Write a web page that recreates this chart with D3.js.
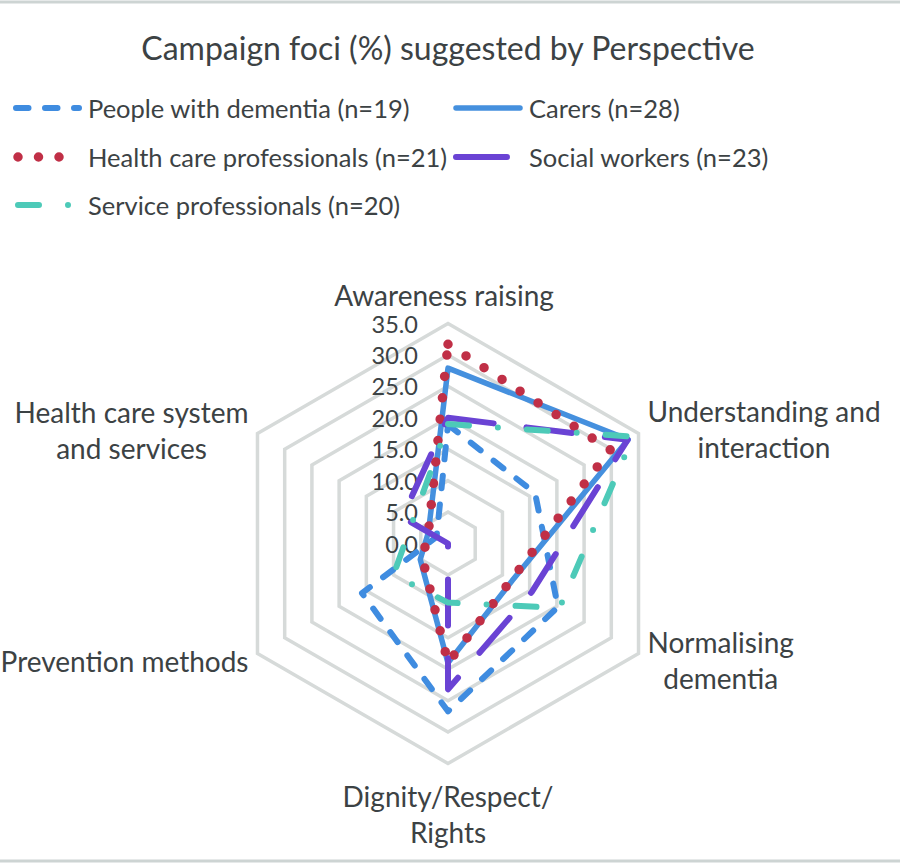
<!DOCTYPE html>
<html>
<head>
<meta charset="utf-8">
<script src="https://cdn.jsdelivr.net/npm/d3@7"></script>
<style>
  html, body { margin: 0; padding: 0; background: #ffffff; }
  svg { display: block; }
  text { font-family: Lato, "Open Sans", sans-serif; fill: #3c4244; }
</style>
</head>
<body>
<svg id="chart" width="900" height="867"></svg>
<script>
// ---- data ----
const title = "Campaign foci (%) suggested by Perspective";
const categories = [
  "Awareness raising",
  "Understanding and|interaction",
  "Normalising|dementia",
  "Dignity/Respect/|Rights",
  "Prevention methods",
  "Health care system|and services"
];
const seriesNames = [
  "People with dementia (n=19)",
  "Carers (n=28)",
  "Health care professionals (n=21)",
  "Social workers (n=23)",
  "Service professionals (n=20)"
];
const peopleWithDementia      = [18.9, 16.0, 20.2, 26.7, 15.8, 2.1];
const carers                  = [27.9, 33.1, 11.8, 19.0, 5.1, 3.6];
const healthCareProfessionals = [31.7, 29.8, 11.6, 19.0, 4.7, 3.6];
const socialWorkers           = [20.0, 33.0, 15.4, 23.2, 0.0, 8.4];
const serviceProfessionals    = [19.0, 34.0, 20.5, 9.4, 10.0, 6.6];
const tickValues = [0, 5, 10, 15, 20, 25, 30, 35];
const tickLabels = ["0.0", "5.0", "10.0", "15.0", "20.0", "25.0", "30.0", "35.0"];

// ---- styles ----
const seriesValues = [peopleWithDementia, carers, healthCareProfessionals, socialWorkers, serviceProfessionals];
const styles = [
  { color: "#3f8ce0", width: 6,   dash: "12.5,16.5", legendDash: "12.5,16.5" },
  { color: "#4590de", width: 5.5, dash: null,        legendDash: null },
  { color: "#c02f46", width: 9.5, dash: "0,21.5",    legendDash: "0,20.5" },
  { color: "#6a43d4", width: 6,   dash: "46,33",     legendDash: null },
  { color: "#4dcab8", width: 6,   dash: "21,29,0,29", legendDash: "21,29,0,29" }
];
const legendPos = [
  { x0: 16, x1: 79, tx: 88, y: 108 },
  { x0: 456, x1: 520, tx: 529, y: 108 },
  { x0: 18, x1: 60, tx: 88, y: 157 },
  { x0: 456, x1: 507, tx: 529, y: 157 },
  { x0: 18, x1: 70, tx: 88, y: 205 }
];

const svg = d3.select("#chart");
const cx = 448, cy = 543.5, R = 220;
const r = d3.scaleLinear().domain([0, 35]).range([0, R]);
const n = categories.length;
const ang = i => i * 2 * Math.PI / n;

// frame lines
svg.append("line").attr("x1", 0).attr("x2", 900).attr("y1", 2).attr("y2", 2)
  .attr("stroke", "#cdd4d3").attr("stroke-width", 3);
svg.append("line").attr("x1", 0).attr("x2", 900).attr("y1", 861).attr("y2", 861)
  .attr("stroke", "#cdd4d3").attr("stroke-width", 3);

// title
svg.append("text").attr("x", 448).attr("y", 47)
  .attr("text-anchor", "middle").attr("dominant-baseline", "central")
  .style("font-size", "32px").text(title);

const g = svg.append("g").attr("transform", `translate(${cx},${cy})`);

// grid hexagons
const ring = d3.lineRadial().angle((d, i) => ang(i)).radius(d => r(d)).curve(d3.curveLinearClosed);
g.selectAll("path.grid").data(tickValues.filter(v => v > 0)).join("path")
  .attr("class", "grid")
  .attr("d", v => ring(d3.range(n).map(() => v)))
  .attr("fill", "none").attr("stroke", "#d6dad9").attr("stroke-width", 3.5)
  .attr("stroke-linejoin", "miter");

// tick labels
g.selectAll("text.tick").data(tickValues).join("text")
  .attr("class", "tick")
  .attr("x", -30).attr("y", v => -r(v))
  .attr("text-anchor", "end").attr("dominant-baseline", "central")
  .style("font-size", "23.5px")
  .text((v, i) => tickLabels[i]);

// series
const line = d3.lineRadial().angle((d, i) => ang(i)).radius(d => r(d)).curve(d3.curveLinearClosed);
seriesValues.forEach((vals, k) => {
  const st = styles[k];
  g.append("path").attr("d", line(vals))
    .attr("fill", "none").attr("stroke", st.color).attr("stroke-width", st.width)
    .attr("stroke-linecap", "round").attr("stroke-linejoin", "round")
    .attr("stroke-dasharray", st.dash);
});

// axis labels
const lblSize = 28, lineH = 36;
categories.forEach((c, i) => {
  const lines = c.split("|");
  const vx = cx + R * Math.sin(ang(i));
  const vy = cy - R * Math.cos(ang(i));
  const t = svg.append("text").attr("text-anchor", "middle").style("font-size", lblSize + "px");
  lines.forEach((l, j) => {
    t.append("tspan").attr("x", 0).attr("y", j * lineH).attr("dominant-baseline", "central").text(l);
  });
  const bb = t.node().getBBox();
  const w = bb.width;
  const hBlock = (lines.length - 1) * lineH;
  let x, y;
  if (i === 0) { x = vx - 4; y = vy - 29; }
  else if (i === 3) { x = vx; y = vy + 32; }
  else if (i === 1 || i === 2) { x = vx + 9 + w / 2; y = vy + (i === 1 ? -4.5 : 6) - hBlock / 2; }
  else { x = vx - 9 - w / 2; y = vy + (i === 4 ? 7 : -4) - hBlock / 2; }
  t.attr("transform", `translate(${x},${y})`);
});

// legend
seriesNames.forEach((name, k) => {
  const st = styles[k], p = legendPos[k];
  svg.append("line").attr("x1", p.x0).attr("x2", p.x1).attr("y1", p.y).attr("y2", p.y)
    .attr("stroke", st.color).attr("stroke-width", st.width)
    .attr("stroke-linecap", "round").attr("stroke-dasharray", st.legendDash);
  svg.append("text").attr("x", p.tx).attr("y", p.y)
    .attr("dominant-baseline", "central").style("font-size", "25.5px").text(name);
});
</script>
</body>
</html>
